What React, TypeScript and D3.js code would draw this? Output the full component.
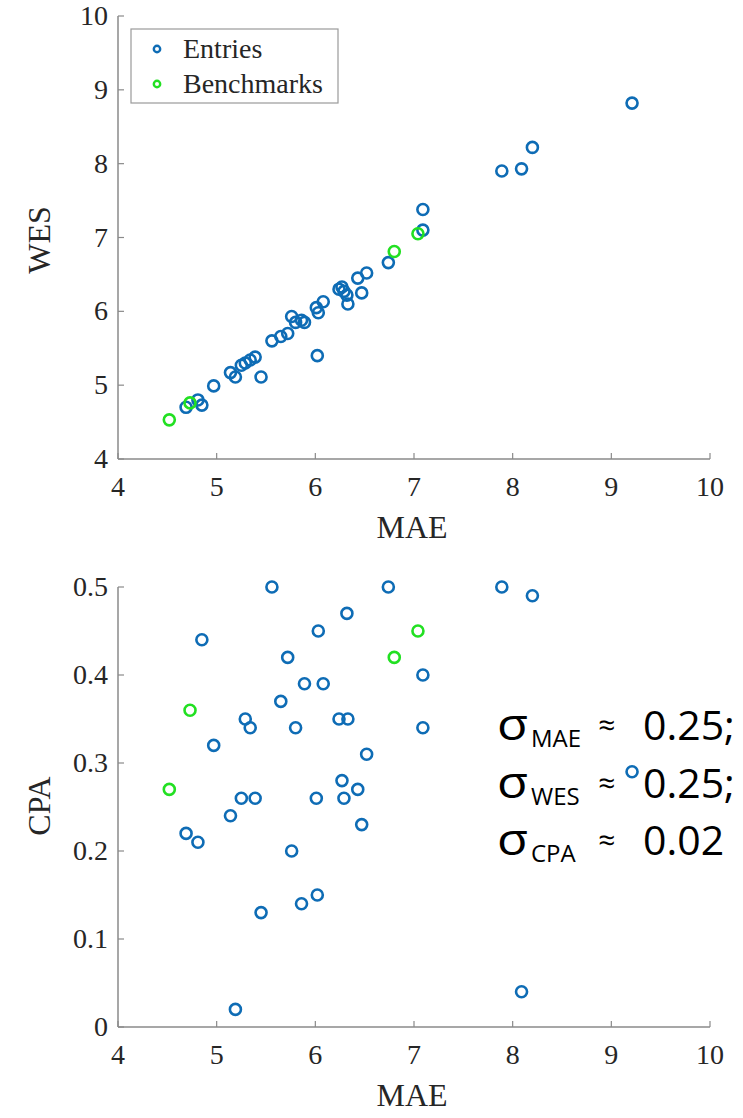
import * as d3 from "d3";

// entries: MAE, WES, CPA
const entryMAE = [
  5.56, 6.74, 7.89, 8.2, 6.32, 4.85, 6.03, 5.72, 5.89, 6.08, 5.65, 5.29, 5.34,
  5.8, 6.24, 6.33, 4.97, 6.52, 6.27, 6.43, 5.25, 5.39, 6.01, 6.29, 6.47, 5.14,
  4.69, 4.81, 5.76, 5.45, 5.86, 6.02, 5.19, 8.09, 9.21, 7.09, 7.09,
];
const entryWES = [
  5.6, 6.66, 7.9, 8.22, 6.22, 4.73, 5.98, 5.7, 5.85, 6.13, 5.66, 5.3, 5.34,
  5.85, 6.3, 6.1, 4.99, 6.52, 6.33, 6.45, 5.27, 5.38, 6.05, 6.27, 6.25, 5.17,
  4.7, 4.8, 5.93, 5.11, 5.88, 5.4, 5.11, 7.93, 8.82, 7.38, 7.1,
];
const entryCPA = [
  0.5, 0.5, 0.5, 0.49, 0.47, 0.44, 0.45, 0.42, 0.39, 0.39, 0.37, 0.35, 0.34,
  0.34, 0.35, 0.35, 0.32, 0.31, 0.28, 0.27, 0.26, 0.26, 0.26, 0.26, 0.23, 0.24,
  0.22, 0.21, 0.2, 0.13, 0.14, 0.15, 0.02, 0.04, 0.29, 0.4, 0.34,
];

const benchMAE = [4.52, 4.73, 6.8, 7.04];
const benchWES = [4.53, 4.76, 6.81, 7.05];
const benchCPA = [0.27, 0.36, 0.42, 0.45];

const maeTicks = [4, 5, 6, 7, 8, 9, 10];
const wesTicks = [4, 5, 6, 7, 8, 9, 10];
const cpaTicks = [0, 0.1, 0.2, 0.3, 0.4, 0.5];

const legendLabels = ["Entries", "Benchmarks"];
const sigmaNames = ["MAE", "WES", "CPA"];
const sigmaValues = ["0.25;", "0.25;", "0.02"];

const BLUE = "#0e6cb5";
const GREEN = "#22e022";
const AXIS = "#8a8a8a";
const TEXT = "#262626";
const SERIF = "'Liberation Serif', 'Times New Roman', serif";
const SANS = "'Open Sans', 'Noto Sans', sans-serif";

const W = 743;
const H = 1118;
const x = d3.scaleLinear().domain([4, 10]).range([118, 710]);
const yTop = d3.scaleLinear().domain([4, 10]).range([459, 16]);
const yBot = d3.scaleLinear().domain([0, 0.5]).range([1027, 587]);

const Panel = ({ y, yTicks, yLabel, yVals, bVals, fmt, labelY }) => {
  const [y0, y1] = y.range();
  return (
    <g>
      {/* axes */}
      <line x1={x(4)} x2={x(10)} y1={y0} y2={y0} stroke={AXIS} strokeWidth={1.5} />
      <line x1={x(4)} x2={x(4)} y1={y0} y2={y1} stroke={AXIS} strokeWidth={1.5} />
      {maeTicks.map((t) => (
        <g key={"x" + t}>
          <line x1={x(t)} x2={x(t)} y1={y0} y2={y0 - 6} stroke={AXIS} strokeWidth={1.2} />
          <text x={x(t)} y={y0 + 37} textAnchor="middle" fontSize={28} fill={TEXT} fontFamily={SERIF}>
            {t}
          </text>
        </g>
      ))}
      {yTicks.map((t) => (
        <g key={"y" + t}>
          <line x1={x(4)} x2={x(4) + 6} y1={y(t)} y2={y(t)} stroke={AXIS} strokeWidth={1.2} />
          <text x={108} y={y(t) + 9} textAnchor="end" fontSize={28} fill={TEXT} fontFamily={SERIF}>
            {fmt(t)}
          </text>
        </g>
      ))}
      <text x={(x(4) + x(10)) / 2 - 2} y={y0 + 79} textAnchor="middle" fontSize={32} fill={TEXT} fontFamily={SERIF}>
        MAE
      </text>
      <text
        transform={`translate(50,${labelY}) rotate(-90)`}
        textAnchor="middle"
        fontSize={32}
        fill={TEXT}
        fontFamily={SERIF}
      >
        {yLabel}
      </text>
      {/* marks */}
      {entryMAE.map((m, i) => (
        <circle key={"e" + i} cx={x(m)} cy={y(yVals[i])} r={5.5} fill="none" stroke={BLUE} strokeWidth={2.6} />
      ))}
      {benchMAE.map((m, i) => (
        <circle key={"b" + i} cx={x(m)} cy={y(bVals[i])} r={5.5} fill="none" stroke={GREEN} strokeWidth={2.6} />
      ))}
    </g>
  );
};

export default function App() {
  return (
    <div style={{ position: "absolute", left: 0, top: 0 }}>
      <svg width={W} height={H} style={{ display: "block", background: "#fff" }}>
        <Panel y={yTop} yTicks={wesTicks} yLabel="WES" yVals={entryWES} bVals={benchWES} fmt={(t) => String(t)} labelY={240} />
        <Panel
          y={yBot}
          yTicks={cpaTicks}
          yLabel="CPA"
          yVals={entryCPA}
          bVals={benchCPA}
          fmt={(t) => (t === 0 ? "0" : d3.format(".1f")(t))}
          labelY={806}
        />

        {/* legend */}
        <rect x={131} y={29} width={207} height={74} fill="#fff" stroke="#9a9a9a" strokeWidth={1.2} />
        {legendLabels.map((l, i) => (
          <g key={l}>
            <circle cx={157} cy={49 + i * 35} r={3.2} fill="none" stroke={i ? GREEN : BLUE} strokeWidth={2.4} />
            <text x={183} y={58 + i * 35} fontSize={28} fill={TEXT} fontFamily={SERIF}>
              {l}
            </text>
          </g>
        ))}

        {/* noise annotation */}
        {sigmaNames.map((n, i) => {
          const base = 740 + i * 57.5;
          return (
            <g key={n} fontFamily={SANS} fill="#000">
              <text x={497} y={base} fontSize={44} textLength={31} lengthAdjust="spacingAndGlyphs">σ</text>
              <text x={531} y={base + 7} fontSize={24}>{n}</text>
              <text x={598} y={base - 4} fontSize={30}>≈</text>
              <text x={643} y={base} fontSize={41}>{sigmaValues[i]}</text>
            </g>
          );
        })}
      </svg>
    </div>
  );
}
